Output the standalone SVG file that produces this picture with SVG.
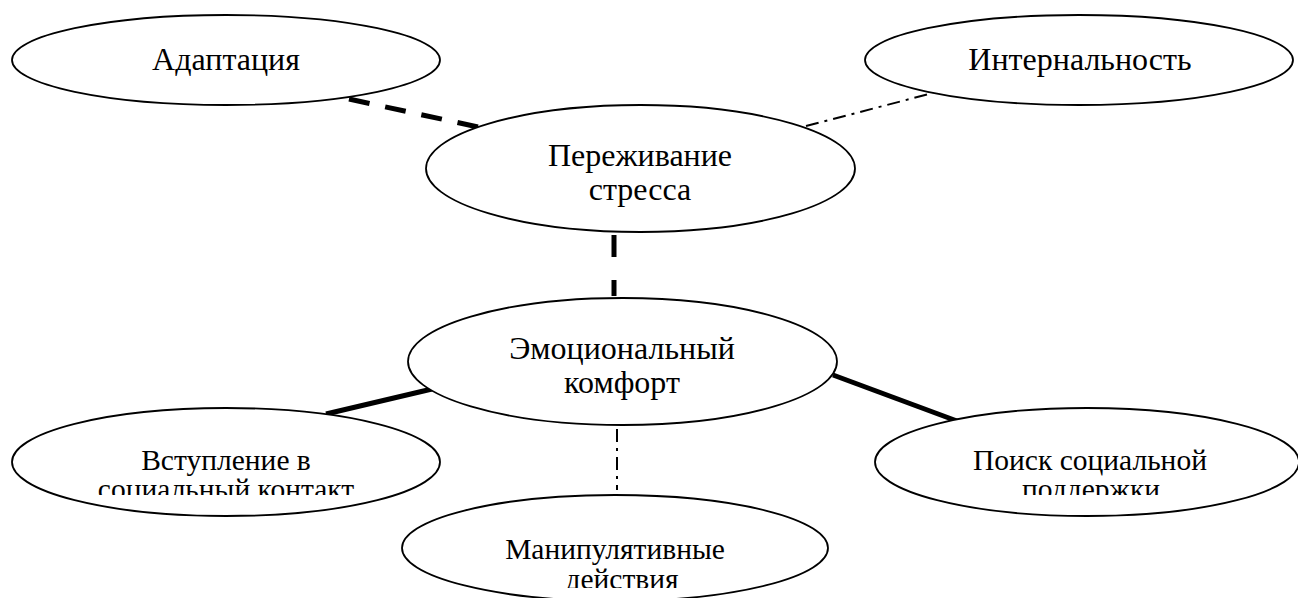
<svg xmlns="http://www.w3.org/2000/svg" width="1298" height="598" viewBox="0 0 1298 598">
<style>
.node{fill:#fff;stroke:#000;stroke-width:1.8}
.t{font-family:"Liberation Serif","Times New Roman",serif;font-size:32px;fill:#000;text-anchor:middle}
.s{font-size:29.5px}
.dash{stroke:#000;stroke-width:5;fill:none;stroke-dasharray:21 16}
.dashv{stroke:#000;stroke-width:5;fill:none;stroke-dasharray:22 23}
.dd{stroke:#000;stroke-width:2;fill:none;stroke-dasharray:13 6 3 6}
.solid{stroke:#000;stroke-width:5;fill:none}
</style>
<defs>
<clipPath id="c1"><rect x="0" y="400" width="460" height="95"/></clipPath>
<clipPath id="c2"><rect x="860" y="400" width="438" height="95"/></clipPath>
<clipPath id="c3"><rect x="390" y="490" width="460" height="98"/></clipPath>
</defs>
<g id="connectors">
<line class="dash" x1="349" y1="99" x2="478" y2="127"/>
<line class="dd" x1="806" y1="126" x2="933" y2="93"/>
<line class="dashv" x1="614" y1="235" x2="614" y2="296"/>
<line class="solid" x1="326" y1="414" x2="432" y2="389"/>
<line class="solid" x1="833" y1="375" x2="957" y2="421"/>
<line class="dd" x1="617" y1="429" x2="617" y2="490"/>
</g>
<g id="n-adaptation">
<ellipse class="node" cx="226" cy="60" rx="214" ry="45"/>
<text class="t" x="226" y="70">Адаптация</text>
</g>
<g id="n-internality">
<ellipse class="node" cx="1079" cy="60" rx="214" ry="45"/>
<text class="t" x="1080" y="70">Интернальность</text>
</g>
<g id="n-stress">
<ellipse class="node" cx="640.5" cy="168.5" rx="214.5" ry="63.5"/>
<text class="t" x="640" y="166">Переживание</text>
<text class="t" x="640" y="200">стресса</text>
</g>
<g id="n-comfort">
<ellipse class="node" cx="622.5" cy="361.5" rx="214.5" ry="63.5"/>
<text class="t" x="622" y="359">Эмоциональный</text>
<text class="t" x="622" y="393">комфорт</text>
</g>
<g id="n-contact">
<ellipse class="node" cx="226" cy="462" rx="214" ry="54"/>
<g clip-path="url(#c1)">
<text class="t s" x="226" y="470">Вступление в</text>
<text class="t s" x="226" y="499">социальный контакт</text>
</g>
</g>
<g id="n-support">
<ellipse class="node" cx="1087" cy="462" rx="212" ry="54"/>
<g clip-path="url(#c2)">
<text class="t s" x="1090" y="470">Поиск социальной</text>
<text class="t s" x="1091" y="499">поддержки</text>
</g>
</g>
<g id="n-manip">
<ellipse class="node" cx="615" cy="548" rx="213" ry="53"/>
<g clip-path="url(#c3)">
<text class="t s" x="615" y="559">Манипулятивные</text>
<text class="t s" x="622" y="589">действия</text>
</g>
</g>
</svg>
